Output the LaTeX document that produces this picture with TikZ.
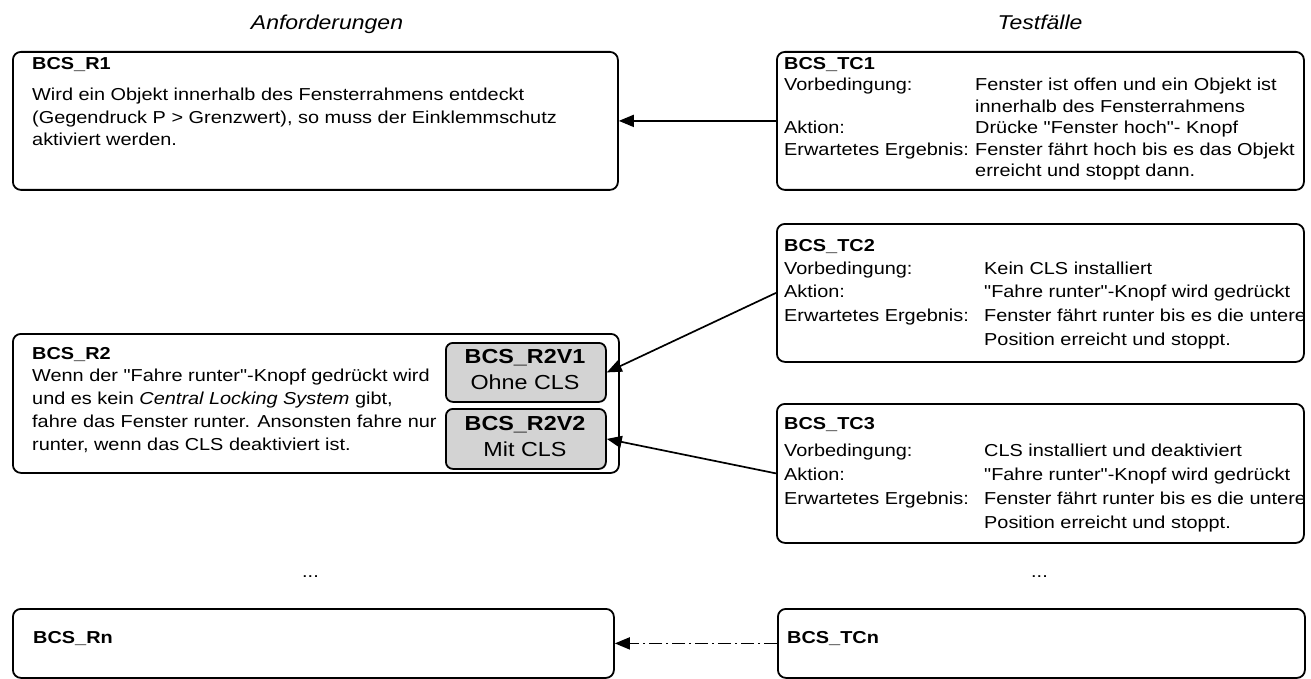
\documentclass[tikz,border=0pt]{standalone}
\usepackage{fontspec}
\setmainfont{Liberation Sans}[FakeStretch=1.15, Ligatures=TeXOff]
\usetikzlibrary{arrows.meta}
\definecolor{vfill}{RGB}{211,211,211}
\tikzset{
  box/.style={draw, line width=1.8pt, rounded corners=8pt, inner sep=0pt, anchor=north west},
  vbox/.style={box, fill=vfill, rounded corners=7pt},
  txt/.style={inner sep=0pt, anchor=base west, font=\fontsize{17.3}{22.5}\selectfont},
  vtxt/.style={inner sep=0pt, anchor=base, font=\fontsize{20.3}{26}\selectfont},
  head/.style={inner sep=0pt, anchor=base, font=\fontsize{20}{24}\selectfont\itshape},
  arr/.style={line width=1.7pt, -{Triangle[length=15pt,width=12pt]}},
}
\begin{document}
\begin{tikzpicture}[x=1pt,y=-1pt]
\useasboundingbox (0,0) rectangle (1311,679);

% headings
\node[head] (h1) at (327,30) {Anforderungen};
\node[head] (h2) at (1040,29.5) {Testfälle};

% boxes
\node[box, minimum width=605pt, minimum height=138pt] (r1) at (12,51) {};
\node[box, minimum width=527pt, minimum height=138pt] (tc1) at (776,51) {};
\node[box, minimum width=527pt, minimum height=138pt] (tc2) at (776,223) {};
\node[box, minimum width=606pt, minimum height=139pt] (r2) at (12,333) {};
\node[vbox, minimum width=160pt, minimum height=59pt] (v1) at (445,342) {};
\node[vbox, minimum width=160pt, minimum height=60pt] (v2) at (445,408) {};
\node[box, minimum width=527pt, minimum height=139pt] (tc3) at (776,403) {};
\node[box, minimum width=601pt, minimum height=69pt] (rn) at (12,608) {};
\node[box, minimum width=527pt, minimum height=69pt] (tcn) at (777,608) {};

% texts
\node[txt] (r1t) at (32,70) {\begin{tabular}[t]{@{}l@{}}\textbf{BCS\_R1}\\[8.5pt]
Wird ein Objekt innerhalb des Fensterrahmens entdeckt\\
(Gegendruck P > Grenzwert), so muss der Einklemmschutz\\
aktiviert werden.\end{tabular}};

\node[txt, font=\fontsize{17.3}{21.5}\selectfont] (tc1t) at (784,69.3) {\begin{tabular}[t]{@{}l@{}l@{}}
\multicolumn{2}{@{}l@{}}{\textbf{BCS\_TC1}}\\
\makebox[191pt][l]{Vorbedingung:} & Fenster ist offen und ein Objekt ist\\
 & innerhalb des Fensterrahmens\\
Aktion: & Drücke "Fenster hoch"- Knopf\\
Erwartetes Ergebnis: & Fenster fährt hoch bis es das Objekt\\
 & erreicht und stoppt dann.\end{tabular}};

\node[txt, font=\fontsize{17.3}{23.5}\selectfont] (tc2t) at (784,251) {\begin{tabular}[t]{@{}l@{}l@{}}
\multicolumn{2}{@{}l@{}}{\textbf{BCS\_TC2}}\\
\makebox[200pt][l]{Vorbedingung:} & Kein CLS installiert\\
Aktion: & "Fahre runter"-Knopf wird gedrückt\\
Erwartetes Ergebnis: & Fenster fährt runter bis es die untere\\
 & Position erreicht und stoppt.\end{tabular}};

\node[txt, font=\fontsize{17.3}{24}\selectfont] (tc3t) at (784,429) {\begin{tabular}[t]{@{}l@{}l@{}}
\multicolumn{2}{@{}l@{}}{\textbf{BCS\_TC3}}\\[3pt]
\makebox[200pt][l]{Vorbedingung:} & CLS installiert und deaktiviert\\
Aktion: & "Fahre runter"-Knopf wird gedrückt\\
Erwartetes Ergebnis: & Fenster fährt runter bis es die untere\\
 & Position erreicht und stoppt.\end{tabular}};

\node[txt, font=\fontsize{17.3}{22.8}\selectfont] (r2t) at (32,359) {\begin{tabular}[t]{@{}l@{}}\textbf{BCS\_R2}\\
Wenn der "Fahre runter"-Knopf gedrückt wird\\
und es kein \textit{Central Locking System} gibt,\\
fahre das Fenster runter. Ansonsten fahre nur\\
runter, wenn das CLS deaktiviert ist.\end{tabular}};

\node[vtxt] (v1t) at (525,363.5) {\begin{tabular}[t]{@{}c@{}}\textbf{BCS\_R2V1}\\ Ohne CLS\end{tabular}};
\node[vtxt] (v2t) at (525,430) {\begin{tabular}[t]{@{}c@{}}\textbf{BCS\_R2V2}\\ Mit CLS\end{tabular}};

\node[txt] (d1) at (302,577) {...};
\node[txt] (d2) at (1031,577) {...};

\node[txt] (rnt) at (33,643) {\textbf{BCS\_Rn}};
\node[txt] (tcnt) at (787,643) {\textbf{BCS\_TCn}};

% connectors
\draw[arr] (tc1.west) -- (r1.east);
\draw[arr] (tc2.west) -- (v1.east);
\draw[arr] (tc3.west) -- (v2.east);
\draw[arr, dash pattern=on 13pt off 4pt on 2pt off 4pt] (tcn.west) -- (rn.east);
\end{tikzpicture}
\end{document}
